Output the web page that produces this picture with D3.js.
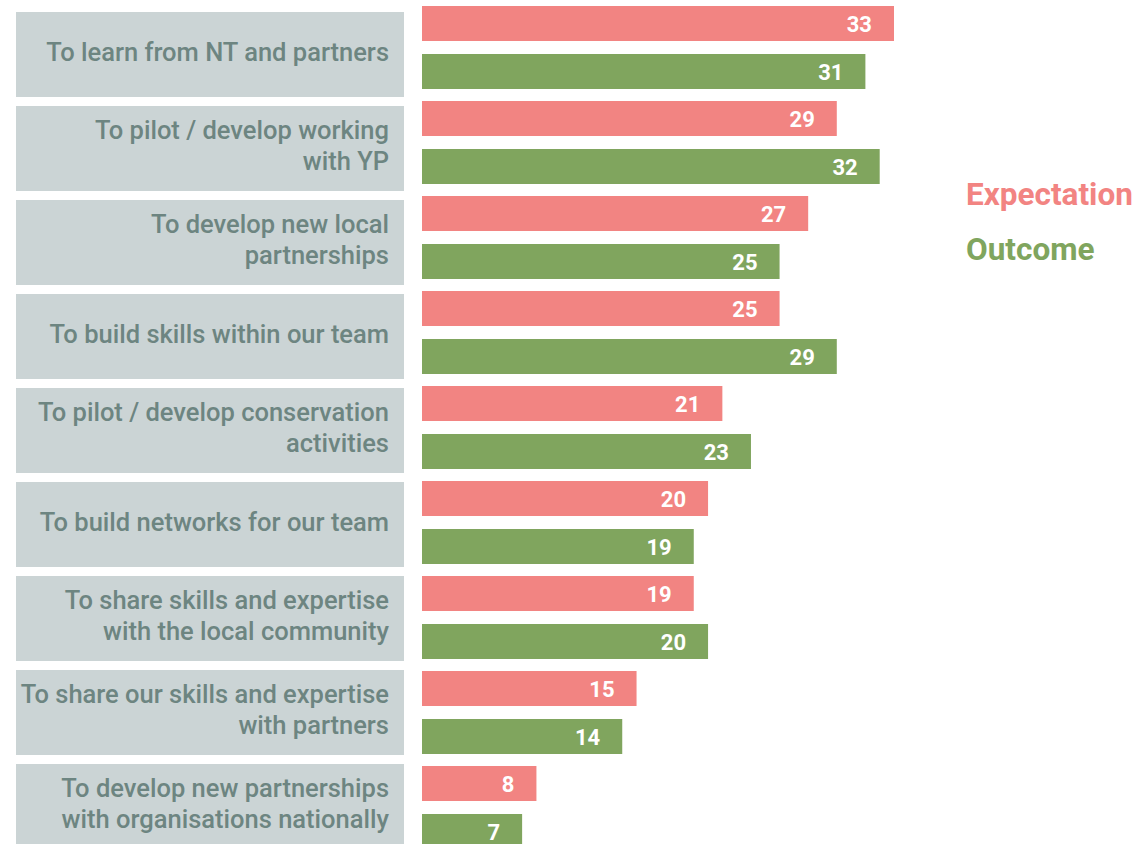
<!DOCTYPE html>
<html>
<head>
<meta charset="utf-8">
<script src="https://cdn.jsdelivr.net/npm/d3@7"></script>
<style>
  html, body { margin: 0; padding: 0; background: #ffffff; overflow: hidden; }
  svg { display: block; }
</style>
</head>
<body>
<svg id="chart" width="1144" height="844"></svg>
<script>
// ---- data ----
const categories = [
  "To learn from NT and partners",
  "To pilot / develop working\nwith YP",
  "To develop new local\npartnerships",
  "To build skills within our team",
  "To pilot / develop conservation\nactivities",
  "To build networks for our team",
  "To share skills and expertise\nwith the local community",
  "To share our skills and expertise\nwith partners",
  "To develop new partnerships\nwith organisations nationally"
];
const seriesNames = ["Expectation", "Outcome"];
const expectation = [33, 29, 27, 25, 21, 20, 19, 15, 8];
const outcome     = [31, 32, 25, 29, 23, 19, 20, 14, 7];
const seriesColors = ["#f28482", "#80a55e"];

// ---- layout ----
const svg = d3.select("#chart");
const n = categories.length;

const x = d3.scaleLinear().domain([0, 33]).range([422, 894]);

const yBox = d3.scaleBand().domain(categories)
  .range([12, 12 + n * 94 - 9]).paddingInner(9 / 94).paddingOuter(0);

const yRow = d3.scaleBand().domain(categories)
  .range([6, 6 + n * 95]);

const ySeries = d3.scaleBand().domain(seriesNames)
  .range([0, 83]).paddingInner(1 - 35 / 48).paddingOuter(0);

const color = d3.scaleOrdinal().domain(seriesNames).range(seriesColors);

const fontLabel = "Roboto, 'Noto Sans', sans-serif";

// ---- category boxes ----
const boxes = svg.append("g").selectAll("g")
  .data(categories).join("g");

boxes.append("rect")
  .attr("x", 16)
  .attr("width", 388)
  .attr("y", d => yBox(d))
  .attr("height", yBox.bandwidth())
  .attr("fill", "#cbd4d5");

boxes.append("text")
  .attr("text-anchor", "end")
  .attr("font-family", fontLabel)
  .attr("font-weight", 500)
  .attr("font-size", 25.5)
  .attr("fill", "#6d8581")
  .each(function(d) {
    const lines = d.split("\n");
    const cy = yBox(d) + yBox.bandwidth() / 2;
    const t = d3.select(this);
    lines.forEach((ln, i) => {
      t.append("tspan")
        .attr("x", 389)
        .attr("y", cy + 6 + (i - (lines.length - 1) / 2) * 31.5)
        .text(ln);
    });
  });

// ---- bars ----
const rows = categories.map((c, i) => ({
  cat: c,
  values: [
    { series: seriesNames[0], value: expectation[i] },
    { series: seriesNames[1], value: outcome[i] }
  ]
}));

const rowG = svg.append("g").selectAll("g")
  .data(rows).join("g")
  .attr("transform", d => `translate(0,${yRow(d.cat)})`);

rowG.selectAll("rect")
  .data(d => d.values).join("rect")
  .attr("x", x(0))
  .attr("y", d => ySeries(d.series))
  .attr("width", d => x(d.value) - x(0))
  .attr("height", ySeries.bandwidth())
  .attr("fill", d => color(d.series));

rowG.selectAll("text")
  .data(d => d.values).join("text")
  .attr("x", d => x(d.value) - 22)
  .attr("y", d => ySeries(d.series) + ySeries.bandwidth() / 2 + 8)
  .attr("text-anchor", "end")
  .attr("font-family", fontLabel)
  .attr("font-weight", 700)
  .attr("font-size", 22)
  .attr("fill", "#ffffff")
  .text(d => d.value);

// ---- legend ----
const legend = svg.append("g");
legend.selectAll("text")
  .data(seriesNames).join("text")
  .attr("x", 966)
  .attr("y", (d, i) => 205 + i * 55)
  .attr("font-family", fontLabel)
  .attr("font-weight", 700)
  .attr("font-size", 31.5)
  .attr("fill", d => color(d))
  .text(d => d);
</script>
</body>
</html>
